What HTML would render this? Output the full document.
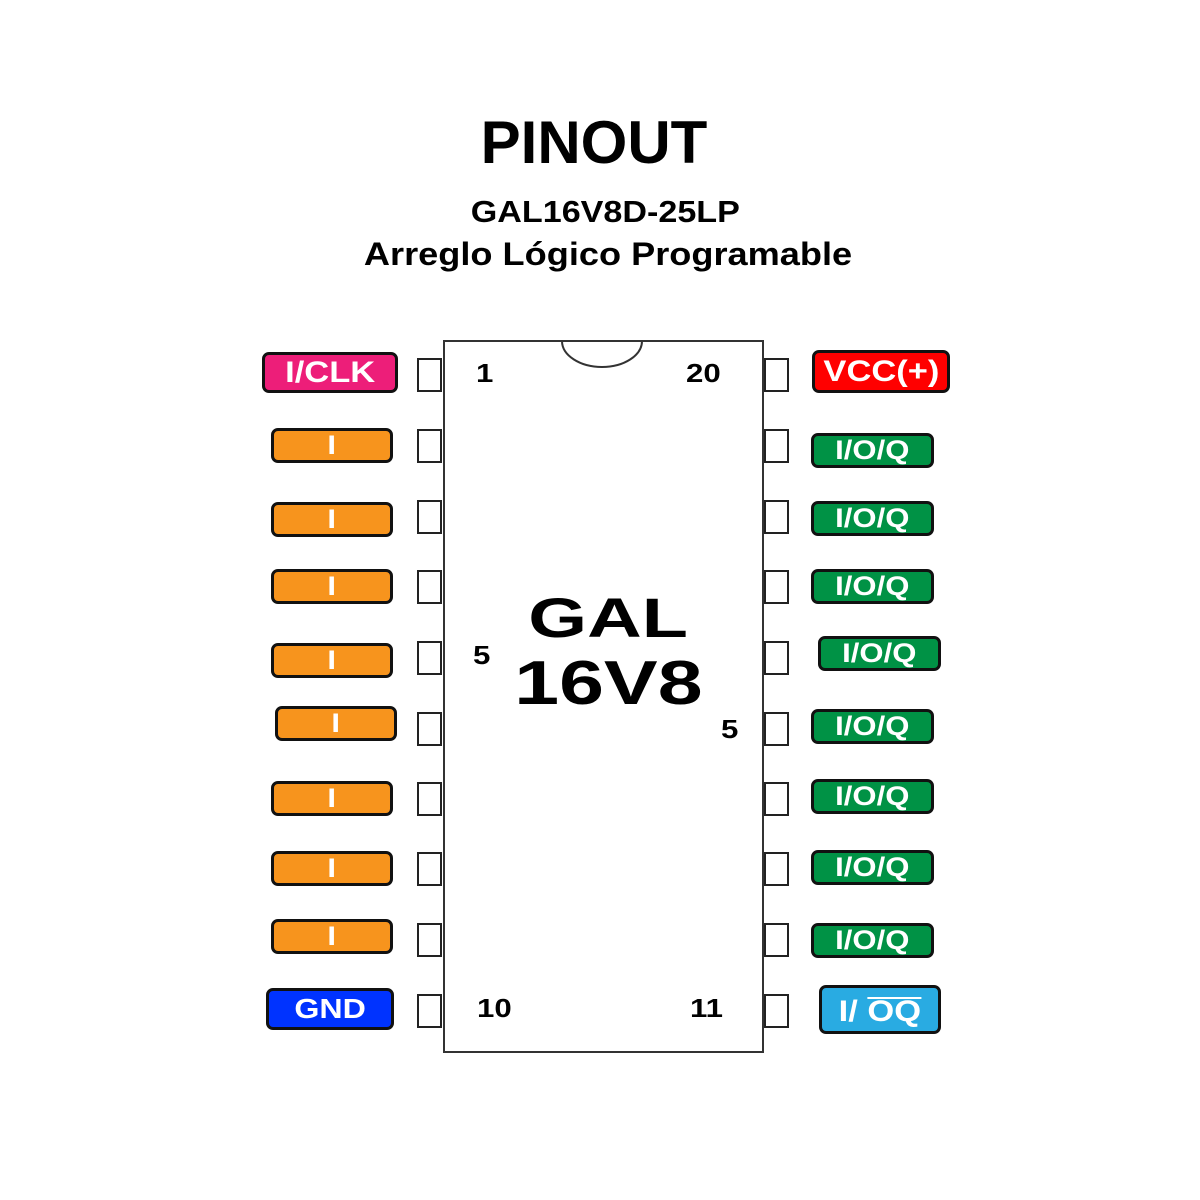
<!DOCTYPE html>
<html><head><meta charset="utf-8"><style>
body{margin:0;background:#fff;}
#c{position:relative;width:1200px;height:1200px;background:#fff;overflow:hidden;font-family:"Liberation Sans",Arial,sans-serif;font-weight:bold;}
.a{position:absolute;}
.t{position:absolute;left:0;width:1200px;text-align:center;color:#000;white-space:nowrap;}
.sq{position:absolute;width:25px;height:34px;border:2px solid #222;box-sizing:border-box;background:#fff;}
.lb{position:absolute;box-sizing:border-box;border:3px solid #111;border-radius:7px;color:#fff;display:flex;align-items:center;justify-content:center;font-size:27px;white-space:nowrap;}
.lb span{display:inline-block;transform:scaleX(1.15);}
.or{background:#f7941d;}
.gr{background:#009245;}
.n{position:absolute;font-size:26px;color:#000;transform:scaleX(1.2);transform-origin:left;}
</style></head><body><div id="c">
<div class="t" style="top:108px;font-size:60px;left:-6px;">PINOUT</div>
<div class="t" style="top:194px;font-size:31px;left:5px;"><span style="display:inline-block;transform:scaleX(1.1)">GAL16V8D-25LP</span></div>
<div class="t" style="top:236px;font-size:32px;left:8px;"><span style="display:inline-block;transform:scaleX(1.13)">Arreglo Lógico Programable</span></div>

<div class="a" style="left:443px;top:340px;width:321px;height:713px;border:2px solid #333;box-sizing:border-box;"></div>
<svg class="a" style="left:0;top:0" width="1200" height="1200"><path d="M562 341 A40 26 0 0 0 642 341" fill="none" stroke="#333" stroke-width="2"/></svg>

<div class="t" style="top:585px;font-size:56px;left:8px;"><span style="display:inline-block;transform:scaleX(1.35)">GAL</span></div>
<div class="t" style="top:648px;font-size:62px;left:8px;"><span style="display:inline-block;transform:scaleX(1.3)">16V8</span></div>

<div class="n" style="left:476px;top:358px;">1</div>
<div class="n" style="left:686px;top:358px;">20</div>
<div class="n" style="left:473px;top:640px;">5</div>
<div class="n" style="left:721px;top:714px;">5</div>
<div class="n" style="left:477px;top:993px;">10</div>
<div class="n" style="left:690px;top:993px;">11</div>

<div class="sq" style="left:417px;top:358px"></div>
<div class="sq" style="left:417px;top:429px"></div>
<div class="sq" style="left:417px;top:500px"></div>
<div class="sq" style="left:417px;top:570px"></div>
<div class="sq" style="left:417px;top:641px"></div>
<div class="sq" style="left:417px;top:712px"></div>
<div class="sq" style="left:417px;top:782px"></div>
<div class="sq" style="left:417px;top:852px"></div>
<div class="sq" style="left:417px;top:923px"></div>
<div class="sq" style="left:417px;top:994px"></div>
<div class="sq" style="left:764px;top:358px"></div>
<div class="sq" style="left:764px;top:429px"></div>
<div class="sq" style="left:764px;top:500px"></div>
<div class="sq" style="left:764px;top:570px"></div>
<div class="sq" style="left:764px;top:641px"></div>
<div class="sq" style="left:764px;top:712px"></div>
<div class="sq" style="left:764px;top:782px"></div>
<div class="sq" style="left:764px;top:852px"></div>
<div class="sq" style="left:764px;top:923px"></div>
<div class="sq" style="left:764px;top:994px"></div>

<div class="lb" style="left:262px;top:352px;width:136px;height:41px;background:#ed1e79;font-size:30px;"><span>I/CLK</span></div>
<div class="lb or" style="left:271px;top:428px;width:122px;height:35px;"><span>I</span></div>
<div class="lb or" style="left:271px;top:502px;width:122px;height:35px;"><span>I</span></div>
<div class="lb or" style="left:271px;top:569px;width:122px;height:35px;"><span>I</span></div>
<div class="lb or" style="left:271px;top:643px;width:122px;height:35px;"><span>I</span></div>
<div class="lb or" style="left:275px;top:706px;width:122px;height:35px;"><span>I</span></div>
<div class="lb or" style="left:271px;top:781px;width:122px;height:35px;"><span>I</span></div>
<div class="lb or" style="left:271px;top:851px;width:122px;height:35px;"><span>I</span></div>
<div class="lb or" style="left:271px;top:919px;width:122px;height:35px;"><span>I</span></div>
<div class="lb" style="left:266px;top:988px;width:128px;height:42px;background:#0033ff;font-size:28px;"><span>GND</span></div>

<div class="lb" style="left:812px;top:350px;width:138px;height:43px;background:#ff0000;font-size:30px;"><span>VCC(+)</span></div>
<div class="lb gr" style="left:811px;top:433px;width:123px;height:35px;"><span>I/O/Q</span></div>
<div class="lb gr" style="left:811px;top:501px;width:123px;height:35px;"><span>I/O/Q</span></div>
<div class="lb gr" style="left:811px;top:569px;width:123px;height:35px;"><span>I/O/Q</span></div>
<div class="lb gr" style="left:818px;top:636px;width:123px;height:35px;"><span>I/O/Q</span></div>
<div class="lb gr" style="left:811px;top:709px;width:123px;height:35px;"><span>I/O/Q</span></div>
<div class="lb gr" style="left:811px;top:779px;width:123px;height:35px;"><span>I/O/Q</span></div>
<div class="lb gr" style="left:811px;top:850px;width:123px;height:35px;"><span>I/O/Q</span></div>
<div class="lb gr" style="left:811px;top:923px;width:123px;height:35px;"><span>I/O/Q</span></div>
<div class="lb" style="left:819px;top:985px;width:122px;height:49px;background:#29abe2;font-size:30px;padding-top:4px;"><span>I/ <span style="border-top:2px solid #fff;line-height:26px;transform:none">OQ</span></span></div>
</div></body></html>
